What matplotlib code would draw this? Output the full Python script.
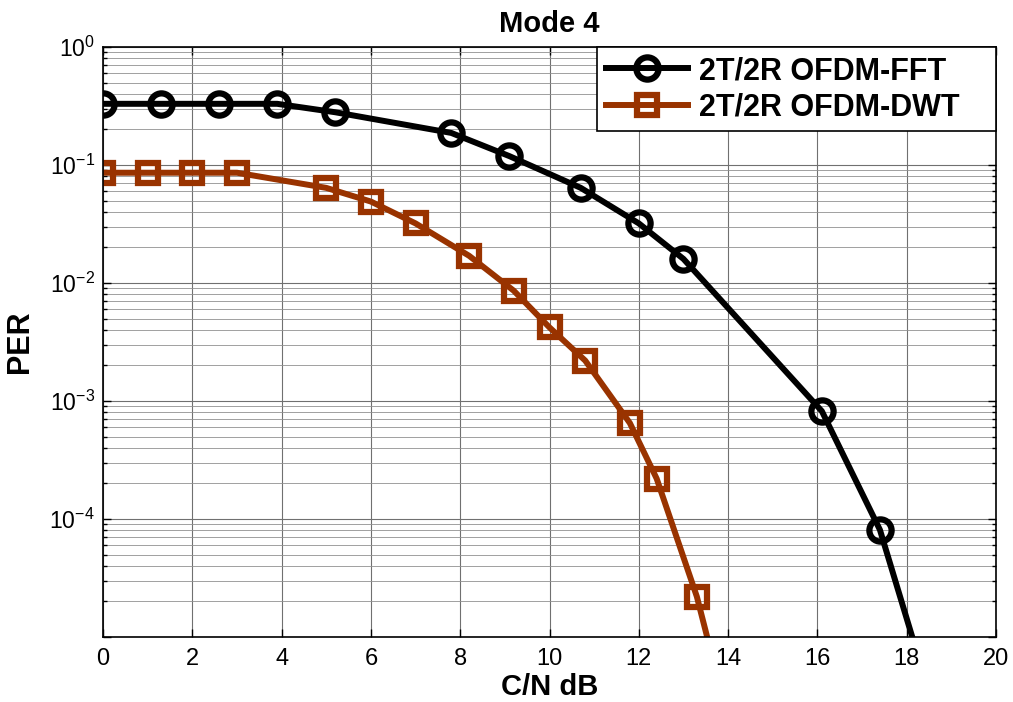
import matplotlib
matplotlib.use("Agg")
import matplotlib.pyplot as plt
from matplotlib.ticker import LogLocator, NullFormatter, MultipleLocator, FixedLocator, FixedFormatter

plt.rcParams['font.family'] = ['Liberation Sans', 'DejaVu Sans']
plt.rcParams['mathtext.fontset'] = 'custom'
plt.rcParams['mathtext.rm'] = 'Liberation Sans'
plt.rcParams['mathtext.it'] = 'Liberation Sans:italic'
plt.rcParams['mathtext.bf'] = 'Liberation Sans:bold'

fft_x = [0, 1.3, 2.6, 3.9, 5.2, 7.8, 9.1, 10.7, 12.0, 13.0, 16.1, 17.4, 18.7]
fft_y = [0.33, 0.33, 0.33, 0.33, 0.28, 0.187, 0.119, 0.064, 0.032, 0.016, 8.2e-4, 8.1e-5, 1.9e-6]
dwt_x = [0, 1, 2, 3, 5, 6, 7, 8.2, 9.2, 10.0, 10.8, 11.8, 12.4, 13.3, 13.8]
dwt_y = [0.086, 0.086, 0.086, 0.086, 0.064, 0.049, 0.032, 0.017, 0.0086, 0.0042,
         0.0022, 6.5e-4, 2.2e-4, 2.2e-5, 4.0e-6]
labels = ['2T/2R OFDM-FFT', '2T/2R OFDM-DWT']
y_ticks = [1e-5, 1e-4, 1e-3, 1e-2, 1e-1, 1]
y_tick_labels = ['', r'$\mathregular{10^{-4}}$', r'$\mathregular{10^{-3}}$',
                 r'$\mathregular{10^{-2}}$', r'$\mathregular{10^{-1}}$', r'$\mathregular{10^{0}}$']

fig = plt.figure(figsize=(10.13, 7.02), dpi=100)
ax = fig.add_axes([103/1013, 1-637/702, (996-103)/1013, (637-47)/702])

ax.semilogy(fft_x, fft_y, color='black', lw=4.3, marker='o', ms=16,
            mfc='none', mew=4.5, label=labels[0])
ax.semilogy(dwt_x, dwt_y, color='#993300', lw=4.3, marker='s', ms=14.5,
            mfc='none', mew=4.5, label=labels[1])

ax.set_xlim(0, 20)
ax.set_ylim(1e-5, 1)
ax.xaxis.set_major_locator(MultipleLocator(2))
ax.yaxis.set_major_locator(FixedLocator(y_ticks))
ax.yaxis.set_major_formatter(FixedFormatter(y_tick_labels))
ax.yaxis.set_minor_locator(LogLocator(base=10, subs=range(2, 10), numticks=10))
ax.yaxis.set_minor_formatter(NullFormatter())

ax.grid(True, which='major', axis='both', color='#707070', lw=0.8)
ax.grid(True, which='minor', axis='y', color='#909090', lw=0.6)
ax.tick_params(which='both', direction='in', top=True, right=True, width=1)
ax.tick_params(axis='x', labelsize=17, pad=8)
ax.tick_params(axis='y', labelsize=16.5, pad=6)
ax.tick_params(which='major', length=6)
ax.tick_params(which='minor', length=3)
for s in ax.spines.values():
    s.set_linewidth(1.2)

ax.set_title('Mode 4', fontsize=21, fontweight='bold', pad=11)
ax.set_xlabel('C/N dB', fontsize=21, fontweight='bold', labelpad=2)
ax.set_ylabel('PER', fontsize=22, fontweight='bold', labelpad=10)

leg = ax.legend(loc='upper right', bbox_to_anchor=(0.553, 0.861, 0.447, 0.139),
                mode='expand', frameon=True, fancybox=False,
                borderaxespad=0.0, handlelength=2.7, handletextpad=0.35, borderpad=0.3,
                labelspacing=0.2, prop={'weight': 'bold', 'size': 22})
leg.get_frame().set_edgecolor('black')
leg.get_frame().set_linewidth(1.2)
leg.get_frame().set_alpha(1)

fig.savefig('out.png', dpi=100)
